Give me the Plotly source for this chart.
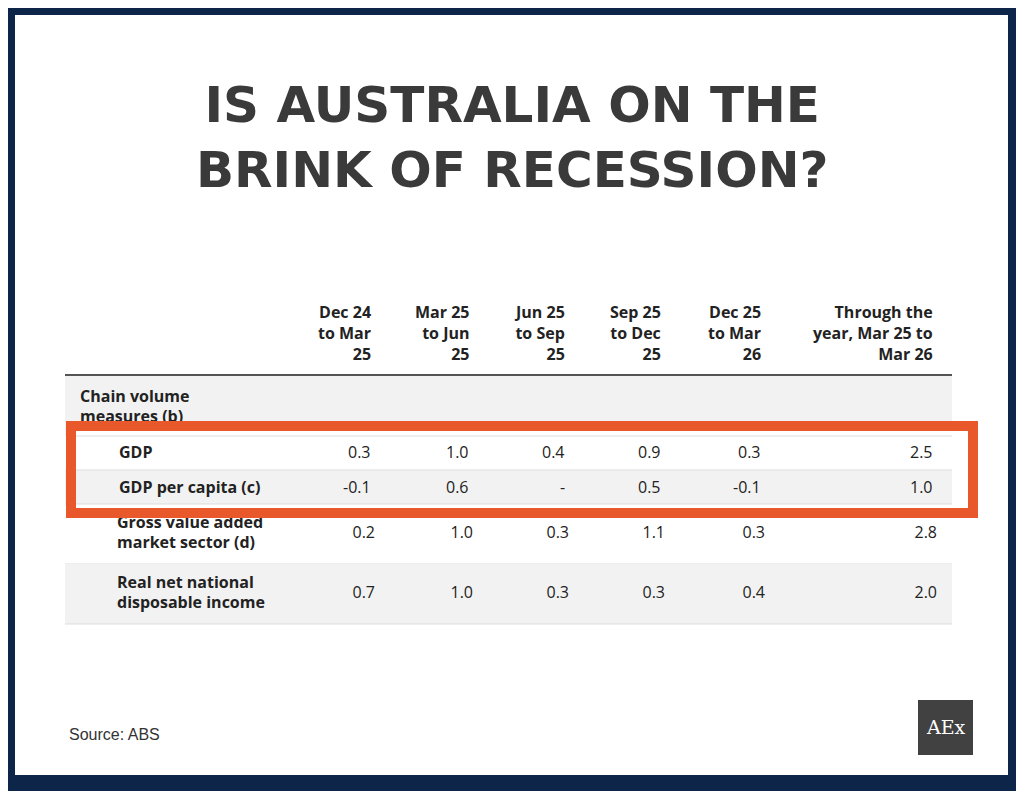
import plotly.graph_objects as go

headers = ["Dec 24<br>to Mar<br>25", "Mar 25<br>to Jun<br>25", "Jun 25<br>to Sep<br>25",
           "Sep 25<br>to Dec<br>25", "Dec 25<br>to Mar<br>26", "Through the<br>year, Mar 25 to<br>Mar 26"]
rows = ["GDP", "GDP per capita (c)", "Gross value added<br>market sector (d)",
        "Real net national<br>disposable income"]
values = [["0.3", "1.0", "0.4", "0.9", "0.3", "2.5"],
          ["-0.1", "0.6", "-", "0.5", "-0.1", "1.0"],
          ["0.2", "1.0", "0.3", "1.1", "0.3", "2.8"],
          ["0.7", "1.0", "0.3", "0.3", "0.4", "2.0"]]
section = "Chain volume<br>measures (b)"

col_x = [373, 471, 567, 663, 763, 935]
row_y = [452, 487, 534, 594]
row_bands = [(436, 470), (470, 504), (504, 564), (564, 624)]
txt = "#222222"
FONT = "Open Sans"
OFF = 8  # page offset compensation

fig = go.Figure()
shapes = [
    dict(type="rect", x0=-50, x1=1100, y0=-50, y1=850, fillcolor="#0d2549", line_width=0, layer="below"),
    dict(type="rect", x0=15, x1=1008, y0=15, y1=775, fillcolor="white", line_width=0, layer="below"),
    dict(type="rect", x0=65, x1=952, y0=376, y1=436, fillcolor="#f2f2f2", line_width=0, layer="below"),
    dict(type="line", x0=65, x1=952, y0=375, y1=375, line=dict(color="#555", width=2), layer="below"),
]
for i, (a, b) in enumerate(row_bands):
    if i % 2 == 1:
        shapes.append(dict(type="rect", x0=65, x1=952, y0=a, y1=b, fillcolor="#f2f2f2", line_width=0, layer="below"))
    shapes.append(dict(type="line", x0=65, x1=952, y0=b, y1=b, line=dict(color="#dddddd", width=1), layer="below"))

def tf():
    return dict(family=FONT, size=16, color=txt)

fig.add_trace(go.Scatter(x=[80], y=[408], mode="text", text=["<b>%s</b>" % section], textposition="middle right",
                         textfont=tf(), hoverinfo="skip"))
for r in (2, 3):
    fig.add_trace(go.Scatter(x=[117], y=[row_y[r]], mode="text", text=["<b>%s</b>" % rows[r]], textposition="middle right",
                             textfont=tf(), hoverinfo="skip"))
    fig.add_trace(go.Scatter(x=[c + 2 for c in col_x], y=[row_y[r]] * 6, mode="text", text=values[r], textposition="middle left",
                             textfont=tf(), hoverinfo="skip"))

shapes.append(dict(type="rect", x0=71, x1=973, y0=426, y1=513, fillcolor="white",
                   line=dict(color="#e8582a", width=10), layer="above"))
shapes.append(dict(type="rect", x0=76, x1=952, y0=470, y1=504, fillcolor="#f2f2f2", line_width=0, layer="above"))
for yy in (436, 470, 504):
    shapes.append(dict(type="line", x0=76, x1=952, y0=yy, y1=yy, line=dict(color="#dddddd", width=1), layer="above"))
shapes.append(dict(type="rect", x0=918, x1=973, y0=700, y1=755, fillcolor="#414141", line_width=0, layer="above"))

ann = []
ann.append(dict(x=512, y=137, text="<b>IS AUSTRALIA ON THE<br>BRINK OF RECESSION?</b>", showarrow=False,
                font=dict(family="DejaVu Sans", size=50, color="#3a3a3a"), xanchor="center", yanchor="middle"))
for h, x in zip(headers, col_x):
    ann.append(dict(x=x, y=333, text="<b>%s</b>" % h, showarrow=False, xanchor="right", yanchor="middle", align="right",
                    font=tf()))
for r in (0, 1):
    ann.append(dict(x=117, y=row_y[r], text="<b>%s</b>" % rows[r], showarrow=False, xanchor="left", yanchor="middle",
                    font=tf()))
    for v, x in zip(values[r], col_x):
        ann.append(dict(x=x, y=row_y[r], text=v, showarrow=False, xanchor="right", yanchor="middle", font=tf()))
ann.append(dict(x=67, y=734, text="Source: ABS", showarrow=False, xanchor="left", yanchor="middle",
                font=dict(family="Liberation Sans", size=16, color="#333")))
ann.append(dict(x=945.5, y=727, text="AEx", showarrow=False, xanchor="center", yanchor="middle",
                font=dict(family="DejaVu Serif", size=19, color="white")))

fig.update_layout(width=1024, height=791, margin=dict(l=0, r=0, t=0, b=0), showlegend=False,
                  plot_bgcolor="#0d2549", paper_bgcolor="#0d2549", shapes=shapes, annotations=ann,
                  xaxis=dict(range=[OFF, 1024 + OFF], visible=False, fixedrange=True),
                  yaxis=dict(range=[791 + OFF, OFF], visible=False, fixedrange=True))
fig.write_html("out.html", config={"displayModeBar": False})
